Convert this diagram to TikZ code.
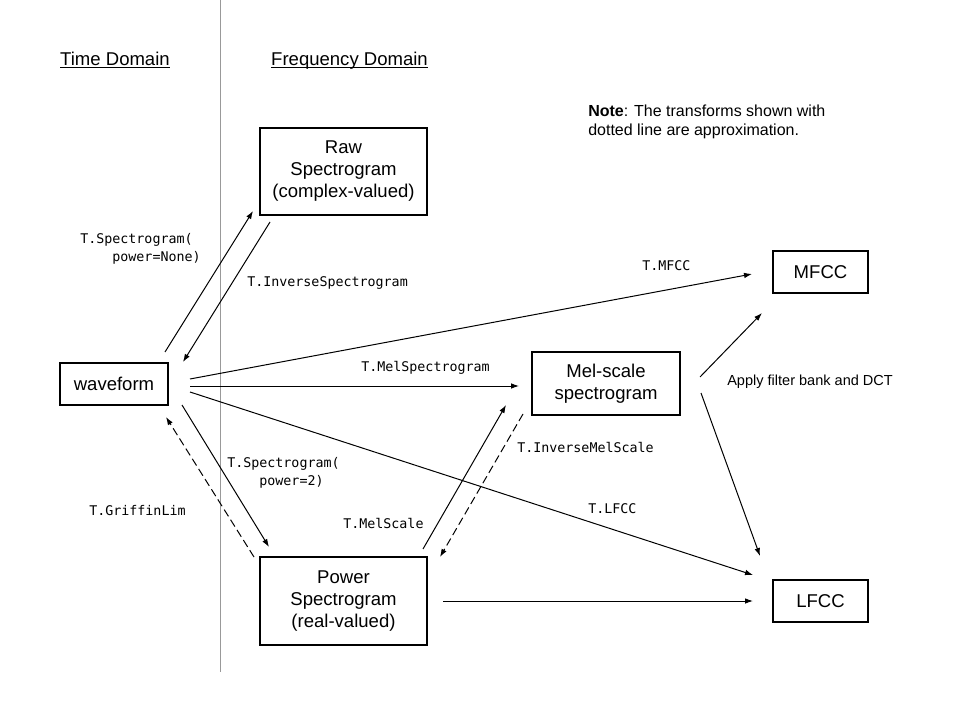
\documentclass[tikz,border=0pt]{standalone}
\usepackage{fontspec}
\setmainfont{Liberation Sans}
\newfontfamily\monofont{DejaVu Sans Mono}
\usetikzlibrary{arrows.meta}
\begin{document}
\begin{tikzpicture}[x=0.75pt,y=-0.75pt,
  box/.style={draw,line width=0.9pt,align=center,inner sep=0pt,font=\fontsize{13.9}{16.5}\selectfont},
  lbl/.style={anchor=west,inner sep=0pt,align=left,font=\monofont\fontsize{10}{13.5}\selectfont},
  hdr/.style={inner sep=0pt,anchor=base,font=\fontsize{13.9}{16.5}\selectfont},
  arr/.style={line width=0.75pt,-{Latex[length=6pt,width=4.2pt]}},
  darr/.style={arr,dash pattern=on 6pt off 3pt}]
\fill[white] (0,0) rectangle (960,720);
\useasboundingbox (0,0) rectangle (960,720);
% divider
\coordinate (dtop) at (220,0);
\coordinate (dbot) at (220,672);
\draw[line width=0.75pt,gray!80] (dtop) -- (dbot);
% headers
\node[hdr] (th) at (115,65.5) {\underline{\smash{Time Domain}}};
\node[hdr] (fh) at (349.5,65.5) {\underline{\smash{Frequency Domain}}};
% note
\node[anchor=west,inner sep=0pt,align=left,font=\fontsize{12}{14.25}\selectfont] (note) at (588,121.5) {\textbf{Note}: The transforms shown with\\dotted line are approximation.};
% boxes
\node[box,minimum width=81pt,minimum height=31.5pt] (wave) at (114,384) {waveform};
\node[box,minimum width=125.25pt,minimum height=65.25pt] (raw) at (343.5,171.5) {Raw\\Spectrogram\\(complex-valued)};
\node[box,minimum width=111pt,minimum height=47.25pt] (mel) at (606,383.5) {Mel-scale\\spectrogram};
\node[box,minimum width=125.25pt,minimum height=66pt] (pow) at (343.5,601) {Power\\Spectrogram\\(real-valued)};
\node[box,minimum width=71.25pt,minimum height=31.5pt] (mfcc) at (820.5,272) {MFCC};
\node[box,minimum width=71.25pt,minimum height=31.5pt] (lfcc) at (820.5,601) {LFCC};
% labels
\node[lbl] (l1) at (80,249) {T.Spectrogram(\\\phantom{0000}power=None)};
\node[lbl] (l2) at (247,283) {T.InverseSpectrogram};
\node[lbl] (l3) at (642,266) {T.MFCC};
\node[lbl] (l4) at (361,368) {T.MelSpectrogram};
\node[lbl] (l5) at (517,447) {T.InverseMelScale};
\node[lbl] (l6) at (227,472.5) {T.Spectrogram(\\\phantom{0000}power=2)};
\node[lbl] (l7) at (89,511) {T.GriffinLim};
\node[lbl] (l8) at (343,523) {T.MelScale};
\node[lbl] (l9) at (588,509) {T.LFCC};
\node[anchor=west,inner sep=0pt,font=\fontsize{10.9}{13}\selectfont] (apply) at (727,382) {Apply filter bank and DCT};
% arrow end points
\coordinate (a1s) at (165,352); \coordinate (a1e) at (253,211);
\coordinate (a2s) at (270,222); \coordinate (a2e) at (183,362);
\coordinate (a3s) at (190,379); \coordinate (a3e) at (752,274);
\coordinate (a4s) at (190,386); \coordinate (a4e) at (519,386);
\coordinate (a5s) at (190,392); \coordinate (a5e) at (753,575);
\coordinate (a6s) at (182,405); \coordinate (a6e) at (269,547);
\coordinate (a7s) at (254,557); \coordinate (a7e) at (166,417);
\coordinate (a8s) at (423,549); \coordinate (a8e) at (506,405);
\coordinate (a9s) at (523,414); \coordinate (a9e) at (440,557);
\coordinate (a10s) at (700,377); \coordinate (a10e) at (762,313);
\coordinate (a11s) at (701,393); \coordinate (a11e) at (760,556);
\coordinate (a12s) at (443,601); \coordinate (a12e) at (753,601);
% arrows
\draw[arr] (a1s) -- (a1e);
\draw[arr] (a2s) -- (a2e);
\draw[arr] (a3s) -- (a3e);
\draw[arr] (a4s) -- (a4e);
\draw[arr] (a5s) -- (a5e);
\draw[arr] (a6s) -- (a6e);
\draw[darr] (a7s) -- (a7e);
\draw[arr] (a8s) -- (a8e);
\draw[darr] (a9s) -- (a9e);
\draw[arr] (a10s) -- (a10e);
\draw[arr] (a11s) -- (a11e);
\draw[arr] (a12s) -- (a12e);
\end{tikzpicture}
\end{document}
